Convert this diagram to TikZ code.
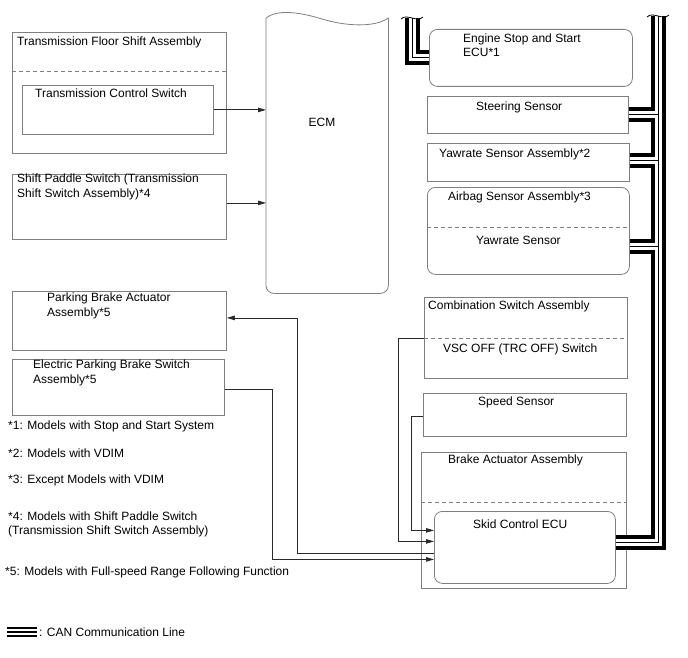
\documentclass[tikz,border=0pt]{standalone}
\usepackage{fontspec}
\setmainfont{Liberation Sans}
\usetikzlibrary{arrows.meta,positioning,calc}
\definecolor{boxgray}{HTML}{7F7F7F}
\definecolor{wiregray}{HTML}{2A2A2A}

\begin{document}
\begin{tikzpicture}[x=1pt, y=-1pt,
    font=\fontsize{12}{14.3}\selectfont,
    blk/.style={draw=boxgray, line width=0.8pt, anchor=north west, inner sep=0},
    rblk/.style={blk, rounded corners=8pt},
    lbl/.style={anchor=west, inner sep=0, align=left},
    sep/.style={draw=boxgray, line width=0.8pt, dash pattern=on 4pt off 3pt},
    wire/.style={draw=wiregray, line width=0.8pt},
    arr/.style={wire, -{Triangle[length=8pt, width=4.5pt]}},
    canouter/.style={line width=15pt, black},
    canmid/.style={line width=7pt, white},
    caninner/.style={line width=1pt, black},
]
    \useasboundingbox (0,0) rectangle (688,658);

    \node[blk, minimum width=214pt, minimum height=121pt] (tfsa) at (12,32) {};
    \node[blk, minimum width=191pt, minimum height=49pt] (tcs) at (22,85) {};
    \node[blk, minimum width=214pt, minimum height=65pt] (sps) at (12,174) {};
    \node[blk, minimum width=214pt, minimum height=59pt] (pba) at (12,291) {};
    \node[blk, minimum width=212pt, minimum height=56pt] (epbs) at (12,359) {};
    \draw[sep] ($(tfsa.north west)+(0,39)$) -- ($(tfsa.north east)+(0,39)$);

    \node[inner sep=0, anchor=north west, minimum width=122pt, minimum height=275pt] (ecm) at (266,18) {};
    \draw[draw=boxgray, line width=0.8pt, rounded corners=8pt] (ecm.north east) -- (ecm.south east) -- (ecm.south west) -- (ecm.north west);
    \draw[draw=boxgray, line width=0.8pt] (ecm.north west) .. controls ($(ecm.north west)+(10,-8)$) and ($(ecm.north west)+(30,-7)$) .. ($(ecm.north west)+(56,1)$)
        .. controls ($(ecm.north west)+(79,8)$) and ($(ecm.north west)+(108,10)$) .. (ecm.north east);

    \node[rblk, minimum width=203pt, minimum height=57pt] (essecu) at (429,29) {};
    \node[blk, minimum width=201pt, minimum height=37pt] (steer) at (427,96) {};
    \node[blk, minimum width=202pt, minimum height=38pt] (yawasm) at (427,143) {};
    \node[rblk, minimum width=202pt, minimum height=87pt] (airbag) at (427,187) {};
    \node[blk, minimum width=203pt, minimum height=81pt] (combo) at (424,297) {};
    \node[blk, minimum width=203pt, minimum height=43pt] (speed) at (423,393) {};
    \node[blk, minimum width=205pt, minimum height=136pt] (brake) at (421,452) {};
    \node[rblk, minimum width=181pt, minimum height=72pt] (skid) at (434,511) {};
    \draw[sep] ($(airbag.north west)+(0,40)$) -- ($(airbag.north east)+(0,40)$);
    \draw[sep] ($(combo.north west)+(0,41)$) -- ($(combo.north east)+(0,41)$);
    \draw[sep] ($(brake.north west)+(0,50)$) -- ($(brake.north east)+(0,50)$);

    \node[lbl] (tfsa-lbl) at (17,42) {Transmission Floor Shift Assembly};
    \node[lbl] (tcs-lbl) at (35,93) {Transmission Control Switch};
    \node[lbl] (sps-lbl) at (17,187) {Shift Paddle Switch (Transmission\\Shift Switch Assembly)*4};
    \node[lbl] (pba-lbl) at (47,306) {Parking Brake Actuator\\Assembly*5};
    \node[lbl] (epbs-lbl) at (33,373) {Electric Parking Brake Switch\\Assembly*5};
    \node (ecm-lbl) at (322,122) {ECM};
    \node[lbl] (essecu-lbl) at (463,45) {Engine Stop and Start\\ECU*1};
    \node[lbl] (steer-lbl) at (476,107) {Steering Sensor};
    \node[lbl] (yawasm-lbl) at (439,154) {Yawrate Sensor Assembly*2};
    \node[lbl] (airbag-lbl) at (448,197) {Airbag Sensor Assembly*3};
    \node[lbl] (yaw-lbl) at (476,240) {Yawrate Sensor};
    \node[lbl] (combo-lbl) at (428,306) {Combination Switch Assembly};
    \node[lbl] (vsc-lbl) at (443,349) {VSC OFF (TRC OFF) Switch};
    \node[lbl] (speed-lbl) at (478,402) {Speed Sensor};
    \node[lbl] (brake-lbl) at (448,460) {Brake Actuator Assembly};
    \node[lbl] (skid-lbl) at (473,524) {Skid Control ECU};

    \coordinate (spsout) at ([yshift=4pt]sps.east);
    \draw[arr] (tcs.east) -- (tcs.east -| ecm.west);
    \draw[arr] (spsout) -- (spsout -| ecm.west);
    \draw[arr] ([yshift=-6pt]skid.west) -- ++(-137,0) |- ([yshift=3pt]pba.east);
    \draw[arr] ([yshift=-2pt]epbs.east) -- ++(48,0) |- ([yshift=-12pt]skid.west);
    \draw[arr] (combo.west) -- ++(-26,0) |- ([yshift=6pt]skid.west);
    \draw[arr] ([yshift=-1.5pt]speed.west) -- ++(-12,0) |- ([yshift=17pt]skid.west);

    \coordinate (canL) at (412,18);
    \coordinate (canR) at (658,16);
    \coordinate (yawout) at ([yshift=2pt]yawasm.east);
    \coordinate (abgout) at ([yshift=-16pt]airbag.east);
    \foreach \canlay in {canouter,canmid,caninner}
        \draw[\canlay] (canL) |- (essecu.west)
            (canR) |- ([yshift=5pt]skid.east)
            (steer.east) -- (steer.east -| canR)
            (yawout) -- (yawout -| canR)
            (abgout) -- (abgout -| canR);
    \draw[wire, black] ($(canL)+(-11,1)$) .. controls ($(canL)+(-5,-5)$) and ($(canL)+(5,5)$) .. ($(canL)+(11,-1)$);
    \draw[wire, black] ($(canR)+(-11,1)$) .. controls ($(canR)+(-5,-5)$) and ($(canR)+(5,5)$) .. ($(canR)+(11,-1)$);

    \node[lbl] (note1) at (8,426) {*1: Models with Stop and Start System};
    \node[lbl] (note2) at (8,453) {*2: Models with VDIM};
    \node[lbl] (note3) at (8,480) {*3: Except Models with VDIM};
    \node[lbl] (note4) at (8,524.5) {*4: Models with Shift Paddle Switch\\(Transmission Shift Switch Assembly)};
    \node[lbl] (note5) at (5,572) {*5: Models with Full-speed Range Following Function};

    \coordinate (legA) at (7,632);
    \coordinate (legB) at (37,632);
    \foreach \canlay/\w in {canouter/10,canmid/6,caninner/1.6}
        \draw[\canlay, line width=\w pt] (legA) -- (legB);
    \node[lbl, right=2pt of legB] (legtxt) {: CAN Communication Line};
\end{tikzpicture}
\end{document}
